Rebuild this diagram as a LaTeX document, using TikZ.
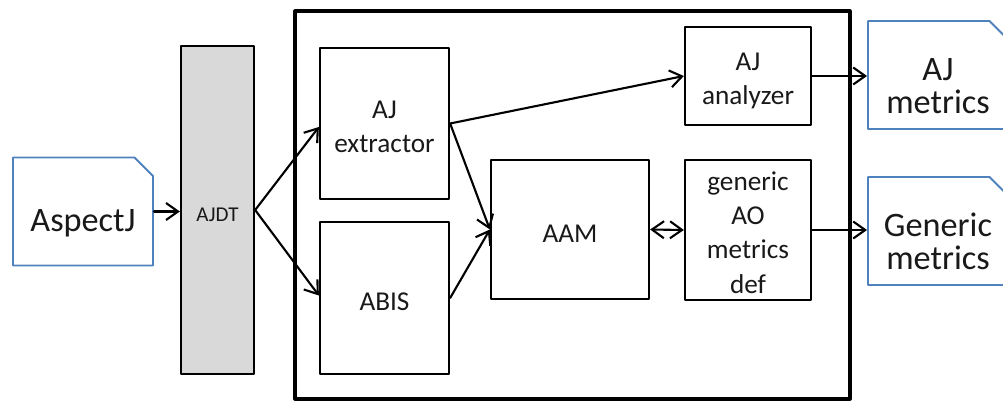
\documentclass[tikz,border=0pt]{standalone}
\usepackage{fontspec}
\setmainfont{Carlito}
\usetikzlibrary{arrows.meta,shapes.misc}
\definecolor{docblue}{HTML}{4F81BD}
\definecolor{ajdtgray}{HTML}{D9D9D9}
\newcommand{\lift}[1]{\rule{0pt}{#1}}

\begin{document}
\begin{tikzpicture}[line cap=round,line join=round,>={Straight Barb[length=2.4mm,width=3.4mm]},x=1.0cm,y=1.0cm,
		box/.style={draw,line width=1.3pt,align=center,inner sep=0pt,text=black!90,font=\fontsize{15.5}{19.5}\selectfont,execute at begin node={\lift{#1}}},
		box/.default=0.52cm,
		doc/.style={draw=docblue,line width=1.1pt,chamfered rectangle,chamfered rectangle corners=north east,chamfered rectangle xsep=0.19cm,chamfered rectangle ysep=0.18cm,minimum width=2.8cm,minimum height=2.16cm,align=center,inner sep=0pt,text=black!90,font=\fontsize{19.5}{19}\selectfont,execute at begin node={\lift{#1}}},
		doc/.default=0.9cm,
		lines/.style={text depth=0pt},
		flow/.style={->,line width=1.2pt}]
		\clip(0,0) rectangle (20.06,8.02);
		% outer frame
		\node[draw,line width=1.8pt,minimum width=11.1cm,minimum height=7.76cm] (sys) at (11.45,3.92) {};
		% inputs and outputs
		\node[doc] (aspectj) at (1.66,3.79) {AspectJ};
		\node[doc=1.55cm,lines] (ajmetrics) at (18.76,6.52) {AJ\\metrics};
		\node[doc=1.55cm,lines] (genmetrics) at (18.76,3.40) {Generic\\metrics};
		\node[box=0.48cm,fill=ajdtgray,minimum width=1.46cm,minimum height=6.56cm,font=\fontsize{12}{14}\selectfont] (ajdt) at (4.35,3.82) {AJDT};
		% tool parts
		\node[box=1.18cm,lines,minimum width=2.58cm,minimum height=3.02cm] (extractor) at (7.69,5.55) {AJ\\extractor};
		\node[box,minimum width=2.58cm,minimum height=3.04cm] (abis) at (7.69,2.06) {ABIS};
		\node[box,minimum width=3.16cm,minimum height=2.78cm] (aam) at (11.40,3.43) {AAM};
		\node[box=1.16cm,lines,minimum width=2.52cm,minimum height=1.96cm] (analyzer) at (14.96,6.50) {AJ\\analyzer};
		\node[box=2.52cm,lines,minimum width=2.52cm,minimum height=2.80cm] (aodef) at (14.96,3.42) {generic\\AO\\metrics\\def};
		% connectors
		\draw[flow] (aspectj.east) -- (aspectj.east -| ajdt.west);
		\draw[flow] (ajdt.east) -- ([yshift=-0.07cm]extractor.west);
		\draw[flow] (ajdt.east) -- ([yshift=0.05cm]abis.west);
		\draw[flow] (extractor.east) -- (analyzer.west);
		\draw[flow] (extractor.east) -- (aam.west);
		\draw[flow] (abis.east) -- (aam.west);
		\draw[flow,<->] (aam.east) -- (aodef.west);
		\draw[flow] (analyzer.east) -- (analyzer.east -| ajmetrics.west);
		\draw[flow] (aodef.east) -- (aodef.east -| genmetrics.west);
	\end{tikzpicture}
\end{document}
